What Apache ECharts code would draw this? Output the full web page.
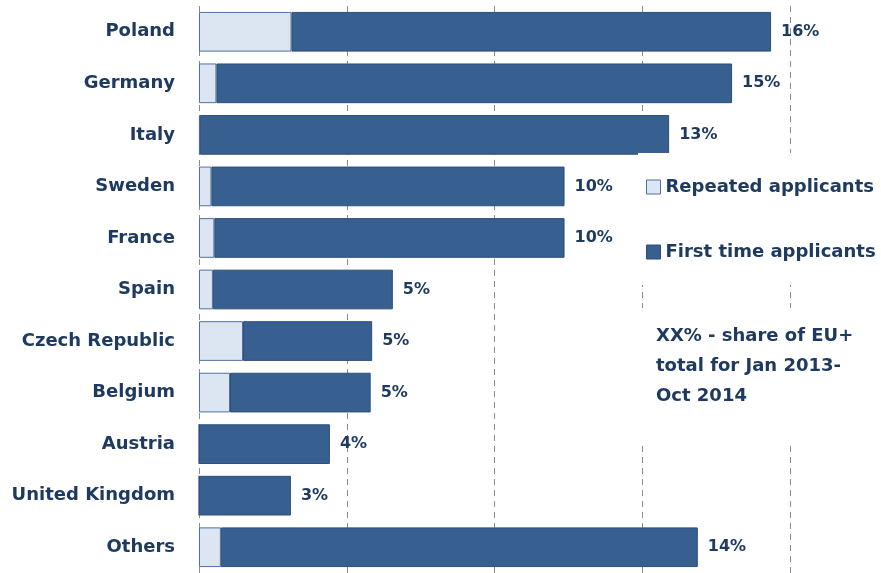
<!DOCTYPE html>
<html>
<head>
<meta charset="utf-8">
<script src="https://cdn.jsdelivr.net/npm/echarts@6/dist/echarts.min.js"></script>
<style>html,body{margin:0;padding:0;background:#fff;}#c{width:881px;height:573px;}</style>
</head>
<body>
<div id="c"></div>
<script>
var categories = ['Poland','Germany','Italy','Sweden','France','Spain','Czech Republic','Belgium','Austria','United Kingdom','Others'];
var repeated = [3130, 590, 30, 420, 520, 470, 1490, 1050, 0, 0, 740];
var firstTime = [16230, 17450, 15880, 11950, 11850, 6090, 4370, 4760, 4430, 3110, 16140];
var shares = ['16%','15%','13%','10%','10%','5%','5%','5%','4%','3%','14%'];
var noteLines = ['XX% - share of EU+', 'total for Jan 2013-', 'Oct 2014'];

var navy = '#1F3A60';
var ff = 'DejaVu Sans';
var chart = echarts.init(document.getElementById('c'));
chart.setOption({
  animation: false,
  backgroundColor: '#fff',
  grid: { left: 199, right: 91, top: 6, bottom: -4, containLabel: false },
  xAxis: {
    type: 'value', min: 0, max: 20000, interval: 5000,
    axisLabel: { show: false }, axisTick: { show: false }, axisLine: { show: false },
    splitLine: { show: true, lineStyle: { color: '#8C8C8C', type: [6, 5], width: 1 } }
  },
  yAxis: {
    type: 'category', data: categories, inverse: true,
    axisLine: { show: false }, axisTick: { show: false },
    axisLabel: { margin: 24, color: navy, fontFamily: ff, fontWeight: 'bold', fontSize: 18 }
  },
  legend: {
    orient: 'vertical', left: 638, top: 153,
    padding: [25, 3, 24, 8], itemGap: 47,
    backgroundColor: '#fff',
    itemWidth: 14, itemHeight: 14, itemStyle: { borderWidth: 1 },
    textStyle: { color: navy, fontFamily: ff, fontWeight: 'bold', fontSize: 18 },
    data: [
      { name: 'Repeated applicants', icon: 'rect' },
      { name: 'First time applicants', icon: 'rect' }
    ]
  },
  graphic: [
    { type: 'rect', z: 100, shape: { x: 639, y: 308, width: 242, height: 137 }, style: { fill: '#fff' } },
    { type: 'text', z: 101, left: 656, top: 321,
      style: { text: noteLines.join('\n'), fill: navy, font: 'bold 18px "DejaVu Sans"', lineHeight: 30 } }
  ],
  series: [
    { name: 'Repeated applicants', type: 'bar', stack: 't', data: repeated, barWidth: '77%',
      itemStyle: { color: '#DCE6F2', borderColor: '#4F71A0', borderWidth: 1 } },
    { name: 'First time applicants', type: 'bar', stack: 't', data: firstTime, barWidth: '77%',
      itemStyle: { color: '#375F8F', borderColor: '#2C4F7A', borderWidth: 1 },
      label: { show: true, position: 'right', distance: 10, color: navy, fontFamily: ff, fontWeight: 'bold', fontSize: 16,
        formatter: function (p) { return shares[p.dataIndex]; } } }
  ]
});
</script>
</body>
</html>
